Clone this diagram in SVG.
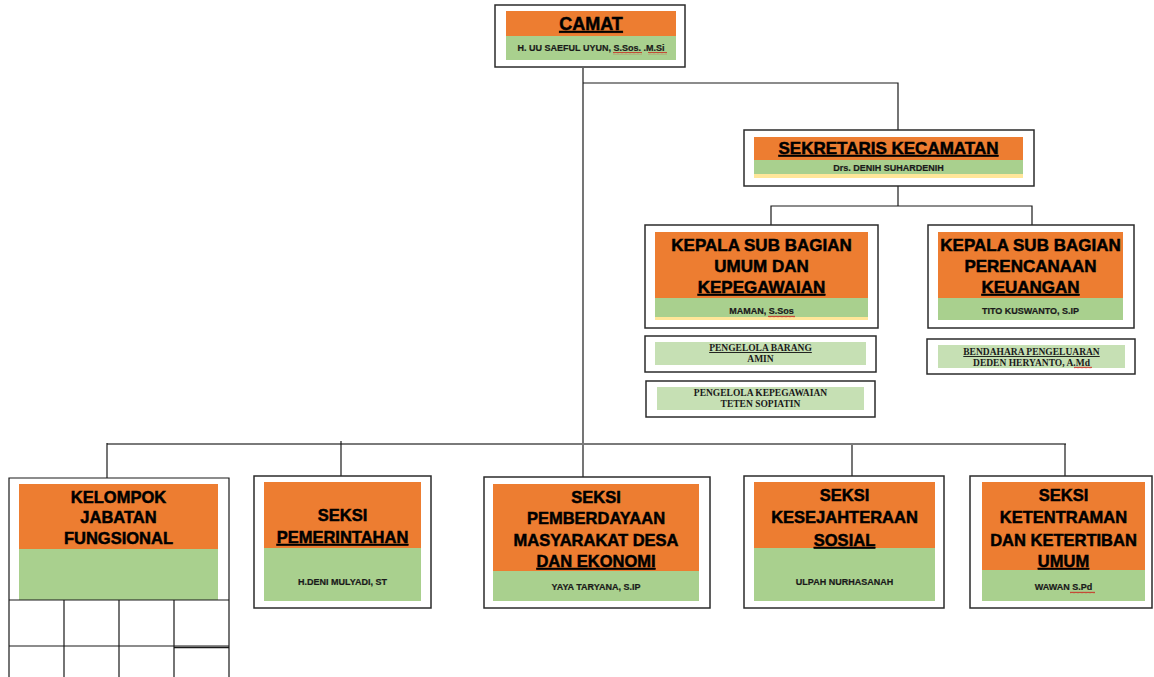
<svg xmlns="http://www.w3.org/2000/svg" width="1154" height="677" viewBox="0 0 1154 677">
<defs>
<style>
.box{fill:#fff;stroke:#2b2b2b;stroke-width:1.5}
.or{fill:#ED7D31}
.gr{fill:#A9D08E}
.lg{fill:#C6E0B4}
.ye{fill:#FFE699}
.h{font-family:"Liberation Sans",Arial,sans-serif;font-weight:bold;font-size:17px;fill:#000;stroke:#000;stroke-width:0.5;text-anchor:middle}
.hs{font-family:"Liberation Sans",Arial,sans-serif;font-weight:bold;font-size:16.5px;fill:#000;stroke:#000;stroke-width:0.5;text-anchor:middle}
.n{font-family:"Liberation Sans",Arial,sans-serif;font-weight:bold;font-size:9px;fill:#1a1a1a;stroke:#1a1a1a;stroke-width:0.2;text-anchor:middle}
.s{font-family:"Liberation Serif","Times New Roman",serif;font-weight:bold;font-size:9.5px;fill:#1a1a1a;text-anchor:middle}
.u{text-decoration:underline}
.ln{fill:none;stroke:#1a1a1a;stroke-width:1.2}
.bus{fill:none;stroke:#7a7a7a;stroke-width:2}
.grid{fill:none;stroke:#1a1a1a;stroke-width:1.2}
</style>
<pattern id="wave" width="4" height="3" patternUnits="userSpaceOnUse"><path d="M0 2.2 L1 0.8 L2 2.2 L3 0.8 L4 2.2" fill="none" stroke="#d01010" stroke-width="0.7"/></pattern>
</defs>

<g id="connectors">
<path class="ln" d="M583 68 V477"/>
<path class="ln" d="M583 83 H898 V130"/>
<path class="ln" d="M898 186 V206"/>
<path class="ln" d="M771 225 V206 H1032 V225"/>
<path class="bus" d="M107 444 H1066"/>
<path class="ln" d="M107 443 V478"/>
<path class="ln" d="M341 441 V476"/>
<path class="ln" d="M852 445 V476"/>
<path class="ln" d="M1065 444 V476"/>
</g>

<g id="camat">
<rect class="box" x="495" y="5" width="190" height="62"/>
<rect class="or" x="506" y="11" width="170" height="25"/>
<rect class="gr" x="506" y="36" width="170" height="24"/>
<text class="h u" x="591" y="30" style="font-size:18px">CAMAT</text>
<text class="n" x="591" y="51">H. UU SAEFUL UYUN, S.Sos. .M.Si</text>
<rect x="613" y="52" width="29" height="3" fill="url(#wave)"/>
<rect x="648" y="52" width="19" height="3" fill="url(#wave)"/>
</g>

<g id="sekretaris">
<rect class="box" x="744" y="130" width="290" height="56"/>
<rect class="or" x="754" y="137" width="269" height="23"/>
<rect class="gr" x="754" y="160" width="269" height="14"/>
<rect class="ye" x="754" y="174" width="269" height="4"/>
<text class="h u" x="888.5" y="154">SEKRETARIS KECAMATAN</text>
<text class="n" x="888.5" y="171">Drs. DENIH SUHARDENIH</text>
</g>

<g id="kasubag-umum">
<rect class="box" x="645" y="225" width="233" height="103"/>
<rect class="or" x="655" y="232" width="213" height="66"/>
<rect class="gr" x="655" y="298" width="213" height="19"/>
<rect class="ye" x="655" y="317" width="213" height="3"/>
<text class="h" x="761.5" y="251">KEPALA SUB BAGIAN</text>
<text class="h" x="761.5" y="272">UMUM DAN</text>
<text class="h u" x="761.5" y="293">KEPEGAWAIAN</text>
<text class="n" x="761.5" y="314">MAMAN, S.Sos</text>
<rect x="768" y="315" width="27" height="3" fill="url(#wave)"/>
</g>

<g id="kasubag-keuangan">
<rect class="box" x="928" y="225" width="206" height="103"/>
<rect class="or" x="938" y="232" width="185" height="66"/>
<rect class="gr" x="938" y="298" width="185" height="22"/>
<text class="h" x="1030.5" y="251">KEPALA SUB BAGIAN</text>
<text class="h" x="1030.5" y="272">PERENCANAAN</text>
<text class="h u" x="1030.5" y="293">KEUANGAN</text>
<text class="n" x="1030.5" y="314">TITO KUSWANTO, S.IP</text>
</g>

<g id="pengelola-barang">
<rect class="box" x="645" y="336" width="231" height="36"/>
<rect class="lg" x="655" y="342" width="211" height="23"/>
<text class="s u" x="760.5" y="351">PENGELOLA BARANG</text>
<text class="s" x="760.5" y="362">AMIN</text>
</g>

<g id="pengelola-kepegawaian">
<rect class="box" x="646" y="381" width="229" height="36"/>
<rect class="lg" x="657" y="387" width="207" height="23"/>
<text class="s" x="760.5" y="396">PENGELOLA KEPEGAWAIAN</text>
<text class="s" x="760.5" y="407">TETEN SOPIATIN</text>
</g>

<g id="bendahara">
<rect class="box" x="927" y="339" width="208" height="35"/>
<rect class="lg" x="938" y="345" width="187" height="23"/>
<text class="s u" x="1031.5" y="355">BENDAHARA PENGELUARAN</text>
<text class="s" x="1031.5" y="366">DEDEN HERYANTO, A.Md</text>
<rect x="1074" y="366" width="18" height="3" fill="url(#wave)"/>
</g>

<g id="kelompok-jabatan-fungsional">
<path class="grid" d="M9 677 V478 H229 V677"/>
<rect class="or" x="19" y="484" width="199" height="65"/>
<rect class="gr" x="19" y="549" width="199" height="51"/>
<path class="grid" d="M9 600 H229 M9 646 H229 M64 600 V677 M119 600 V677 M174 600 V677"/>
<path d="M174 647.5 H229" stroke="#1a1a1a" stroke-width="1.5" fill="none"/>
<text class="hs" x="118.5" y="503">KELOMPOK</text>
<text class="hs" x="118.5" y="523">JABATAN</text>
<text class="hs" x="118.5" y="544">FUNGSIONAL</text>
</g>

<g id="seksi-pemerintahan">
<rect class="box" x="254" y="476" width="177" height="132"/>
<rect class="or" x="264" y="482" width="157" height="66"/>
<rect class="gr" x="264" y="548" width="157" height="53"/>
<text class="hs" x="342.5" y="521">SEKSI</text>
<text class="hs u" x="342.5" y="543">PEMERINTAHAN</text>
<text class="n" x="342.5" y="585">H.DENI MULYADI, ST</text>
</g>

<g id="seksi-pemberdayaan">
<rect class="box" x="484" y="477" width="226" height="131"/>
<rect class="or" x="493" y="484" width="206" height="87"/>
<rect class="gr" x="493" y="571" width="206" height="30"/>
<text class="hs" x="596" y="503">SEKSI</text>
<text class="hs" x="596" y="524">PEMBERDAYAAN</text>
<text class="hs" x="596" y="546">MASYARAKAT DESA</text>
<text class="hs u" x="596" y="567">DAN EKONOMI</text>
<text class="n" x="596" y="590">YAYA TARYANA, S.IP</text>
</g>

<g id="seksi-kesejahteraan">
<rect class="box" x="744" y="476" width="200" height="132"/>
<rect class="or" x="754" y="482" width="181" height="66"/>
<rect class="gr" x="754" y="548" width="181" height="53"/>
<text class="hs" x="844.5" y="501">SEKSI</text>
<text class="hs" x="844.5" y="523">KESEJAHTERAAN</text>
<text class="hs u" x="844.5" y="546">SOSIAL</text>
<text class="n" x="844.5" y="585">ULPAH NURHASANAH</text>
</g>

<g id="seksi-ketentraman">
<rect class="box" x="970" y="476" width="182" height="132"/>
<rect class="or" x="982" y="482" width="163" height="88"/>
<rect class="gr" x="982" y="570" width="163" height="31"/>
<text class="hs" x="1063.5" y="501">SEKSI</text>
<text class="hs" x="1063.5" y="523">KETENTRAMAN</text>
<text class="hs" x="1063.5" y="546">DAN KETERTIBAN</text>
<text class="hs u" x="1063.5" y="567">UMUM</text>
<text class="n" x="1063.5" y="590">WAWAN S.Pd</text>
<rect x="1070" y="591" width="25" height="3" fill="url(#wave)"/>
</g>
</svg>
